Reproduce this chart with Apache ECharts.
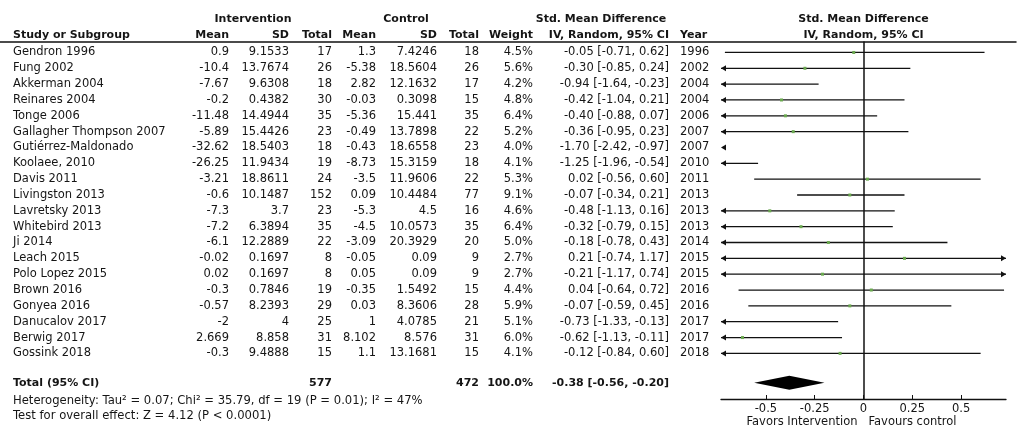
<!DOCTYPE html>
<html><head><meta charset="utf-8">
<script src="https://cdn.jsdelivr.net/npm/echarts@6/dist/echarts.min.js"></script>
<style>html,body{margin:0;padding:0;background:#fff}#c{width:1021px;height:440px}</style>
</head><body><div id="c"></div>
<script>
// ---------------- DATA ----------------
const studies = ['Gendron 1996','Fung 2002','Akkerman 2004','Reinares 2004','Tonge 2006','Gallagher Thompson 2007','Gutiérrez-Maldonado','Koolaee, 2010','Davis 2011','Livingston 2013','Lavretsky 2013','Whitebird 2013','Ji 2014','Leach 2015','Polo Lopez 2015','Brown 2016','Gonyea 2016','Danucalov 2017','Berwig 2017','Gossink 2018'];
const intMean = [0.9,-10.4,-7.67,-0.2,-11.48,-5.89,-32.62,-26.25,-3.21,-0.6,-7.3,-7.2,-6.1,-0.02,0.02,-0.3,-0.57,-2,2.669,-0.3];
const intSD = [9.1533,13.7674,9.6308,0.4382,14.4944,15.4426,18.5403,11.9434,18.8611,10.1487,3.7,6.3894,12.2889,0.1697,0.1697,0.7846,8.2393,4,8.858,9.4888];
const intN = [17,26,18,30,35,23,18,19,24,152,23,35,22,8,8,19,29,25,31,15];
const ctlMean = [1.3,-5.38,2.82,-0.03,-5.36,-0.49,-0.43,-8.73,-3.5,0.09,-5.3,-4.5,-3.09,-0.05,0.05,-0.35,0.03,1,8.102,1.1];
const ctlSD = [7.4246,18.5604,12.1632,0.3098,15.441,13.7898,18.6558,15.3159,11.9606,10.4484,4.5,10.0573,20.3929,0.09,0.09,1.5492,8.3606,4.0785,8.576,13.1681];
const ctlN = [18,26,17,15,35,22,23,18,22,77,16,35,20,9,9,15,28,21,31,15];
const weight = [4.5,5.6,4.2,4.8,6.4,5.2,4.0,4.1,5.3,9.1,4.6,6.4,5.0,2.7,2.7,4.4,5.9,5.1,6.0,4.1];
const smd = [-0.05,-0.30,-0.94,-0.42,-0.40,-0.36,-1.70,-1.25,0.02,-0.07,-0.48,-0.32,-0.18,0.21,-0.21,0.04,-0.07,-0.73,-0.62,-0.12];
const ciLow = [-0.71,-0.85,-1.64,-1.04,-0.88,-0.95,-2.42,-1.96,-0.56,-0.34,-1.13,-0.79,-0.78,-0.74,-1.17,-0.64,-0.59,-1.33,-1.13,-0.84];
const ciHigh = [0.62,0.24,-0.23,0.21,0.07,0.23,-0.97,-0.54,0.60,0.21,0.16,0.15,0.43,1.17,0.74,0.72,0.45,-0.13,-0.11,0.60];
const years = [1996,2002,2004,2004,2006,2007,2007,2010,2011,2013,2013,2013,2014,2015,2015,2016,2016,2017,2017,2018];
const totalInt = 577, totalCtl = 472, totalWeight = 100.0;
const pooled = [-0.38, -0.56, -0.20];
const xTicks = [-0.5, -0.25, 0, 0.25, 0.5];
const xTickLabels = ['-0.5', '-0.25', '0', '0.25', '0.5'];
const heterogeneityText = 'Heterogeneity: Tau² = 0.07; Chi² = 35.79, df = 19 (P = 0.01); I² = 47%';
const overallText = 'Test for overall effect: Z = 4.12 (P < 0.0001)';
const favourLeft = 'Favors Intervention';
const favourRight = 'Favours control';

// ---------------- LAYOUT ----------------
const FONT = 'DejaVu Sans';
const FS = 11.5, FSB = 11, FSF = 11.6;
const XMIN = -0.73, XMAX = 0.73;
const ROW_MIN = -0.66, ROW_MAX = 21.88;
const R_H1 = -2.1, R_H2 = -1.09, R_TOT = 20.86, R_HET = 22.01, R_TEST = 22.96, R_FAV = 23.32;
const COL = {study: 13, iMean: 229, iSD: 289, iN: 332, cMean: 376, cSD: 437, cN: 479, w: 533, ci: 669, year: 680};
const fmt2 = v => v.toFixed(2);
const ciText = (e, l, h) => `${fmt2(e)} [${fmt2(l)}, ${fmt2(h)}]`;

const cells = [];
function cell(x, row, text, align, bold, size, dx) {
  cells.push({x, row, text: String(text), align, bold: !!bold, size: size || (bold ? FSB : FS), dx: dx || 0});
}
// headers
cell(253, R_H1, 'Intervention', 'center', true);
cell(406, R_H1, 'Control', 'center', true);
cell(601, R_H1, 'Std. Mean Difference', 'center', true);
cell(COL.study, R_H2, 'Study or Subgroup', 'left', true);
cell(COL.iMean, R_H2, 'Mean', 'right', true);
cell(COL.iSD, R_H2, 'SD', 'right', true);
cell(COL.iN, R_H2, 'Total', 'right', true);
cell(COL.cMean, R_H2, 'Mean', 'right', true);
cell(COL.cSD, R_H2, 'SD', 'right', true);
cell(COL.cN, R_H2, 'Total', 'right', true);
cell(COL.w, R_H2, 'Weight', 'right', true);
cell(COL.ci, R_H2, 'IV, Random, 95% CI', 'right', true);
cell(COL.year, R_H2, 'Year', 'left', true);
// rows
studies.forEach((s, i) => {
  cell(COL.study, i, s, 'left');
  cell(COL.iMean, i, intMean[i], 'right');
  cell(COL.iSD, i, intSD[i], 'right');
  cell(COL.iN, i, intN[i], 'right');
  cell(COL.cMean, i, ctlMean[i], 'right');
  cell(COL.cSD, i, ctlSD[i], 'right');
  cell(COL.cN, i, ctlN[i], 'right');
  cell(COL.w, i, weight[i].toFixed(1) + '%', 'right');
  cell(COL.ci, i, ciText(smd[i], ciLow[i], ciHigh[i]), 'right');
  cell(COL.year, i, years[i], 'left');
});
// total
cell(COL.study, R_TOT, 'Total (95% CI)', 'left', true);
cell(COL.iN, R_TOT, totalInt, 'right', true);
cell(COL.cN, R_TOT, totalCtl, 'right', true);
cell(COL.w, R_TOT, totalWeight.toFixed(1) + '%', 'right', true);
cell(COL.ci, R_TOT, ciText(pooled[0], pooled[1], pooled[2]), 'right', true);
cell(COL.study, R_HET, heterogeneityText, 'left', false, FSF);
cell(COL.study, R_TEST, overallText, 'left', false, FSF);

const tableCells = cells.slice();
cells.length = 0;
cell(0, R_H1, 'Std. Mean Difference', 'center', true);
cell(0, R_H2, 'IV, Random, 95% CI', 'center', true);
cell(0, R_FAV, favourLeft, 'right', false, FS, -6);
cell(0, R_FAV, favourRight, 'left', false, FS, 5);
const plotCells = cells.slice();

function textSeries(list, gi) {
  return {
    type: 'custom', xAxisIndex: gi, yAxisIndex: gi, silent: true, clip: false,
    data: list.map(c => [c.x, c.row]),
    renderItem: (params, api) => {
      const c = list[params.dataIndex];
      const p = api.coord([c.x, c.row]);
      return {type: 'text', x: p[0] + c.dx, y: p[1], style: {
        text: c.text, align: c.align, verticalAlign: 'middle',
        fontFamily: FONT, fontSize: c.size, fontWeight: c.bold ? 'bold' : 'normal', fill: '#151515'}};
    }
  };
}

const chart = echarts.init(document.getElementById('c'), null, {renderer: 'canvas'});
const gridCommon = {top: 42, height: 357};
const yCommon = {type: 'value', inverse: true, min: ROW_MIN, max: ROW_MAX, splitLine: {show: false}, axisTick: {show: false}, axisLabel: {show: false}};

chart.setOption({
  animation: false,
  backgroundColor: '#fff',
  grid: [
    Object.assign({left: 0, right: 5}, gridCommon),
    Object.assign({left: 721, right: 15}, gridCommon)
  ],
  xAxis: [
    {gridIndex: 0, type: 'value', position: 'top', min: 0, max: 1016,
     axisLine: {show: true, onZero: false, lineStyle: {color: '#111', width: 1.5}},
     axisTick: {show: false}, axisLabel: {show: false}, splitLine: {show: false}},
    {gridIndex: 1, type: 'value', min: XMIN, max: XMAX,
     axisLine: {show: true, onZero: false, lineStyle: {color: '#111', width: 1.3}},
     axisTick: {show: true, inside: true, length: 4, customValues: xTicks, lineStyle: {color: '#111'}},
     axisLabel: {show: true, customValues: xTicks, margin: 4, fontFamily: FONT, fontSize: FS, color: '#151515',
       formatter: v => { const k = xTicks.indexOf(v); return k >= 0 ? xTickLabels[k] : String(v); }},
     splitLine: {show: false}}
  ],
  yAxis: [
    Object.assign({gridIndex: 0, show: false}, yCommon),
    Object.assign({gridIndex: 1, axisLine: {show: true, onZero: true, lineStyle: {color: '#111', width: 1.5}}}, yCommon)
  ],
  series: [
    textSeries(tableCells, 0),
    textSeries(plotCells, 1),
    {
      type: 'custom', xAxisIndex: 1, yAxisIndex: 1, silent: true, clip: false,
      data: studies.map((s, i) => [smd[i], ciLow[i], ciHigh[i], i]),
      renderItem: (params, api) => {
        const est = api.value(0), lo = api.value(1), hi = api.value(2), row = api.value(3);
        const y = api.coord([0, row])[1];
        const pMin = api.coord([XMIN, row])[0], pMax = api.coord([XMAX, row])[0];
        const a = api.coord([Math.min(Math.max(lo, XMIN), XMAX), row])[0];
        const b = api.coord([Math.max(Math.min(hi, XMAX), XMIN), row])[0];
        const ch = [];
        if (b > a) ch.push({type: 'line', shape: {x1: a, y1: y, x2: b, y2: y}, style: {stroke: '#111', lineWidth: 1.3}});
        if (lo < XMIN) ch.push({type: 'polygon', shape: {points: [[pMin, y], [pMin + 5, y - 3], [pMin + 5, y + 3]]}, style: {fill: '#111'}});
        if (hi > XMAX) ch.push({type: 'polygon', shape: {points: [[pMax, y], [pMax - 5, y - 3], [pMax - 5, y + 3]]}, style: {fill: '#111'}});
        if (est > XMIN && est < XMAX) {
          const px = api.coord([est, row])[0];
          ch.push({type: 'rect', shape: {x: px - 1.5, y: y - 1.5, width: 3, height: 3}, style: {fill: '#6aa84f'}});
        }
        return {type: 'group', children: ch};
      }
    },
    {
      type: 'custom', xAxisIndex: 1, yAxisIndex: 1, silent: true, clip: false,
      data: [[pooled[0], pooled[1], pooled[2], R_TOT]],
      renderItem: (params, api) => {
        const row = api.value(3);
        const c = api.coord([api.value(0), row]);
        const l = api.coord([api.value(1), row]);
        const r = api.coord([api.value(2), row]);
        return {type: 'polygon', shape: {points: [[l[0], c[1]], [c[0], c[1] - 7], [r[0], c[1]], [c[0], c[1] + 7]]}, style: {fill: '#000'}};
      }
    }
  ]
});
</script>
</body></html>
